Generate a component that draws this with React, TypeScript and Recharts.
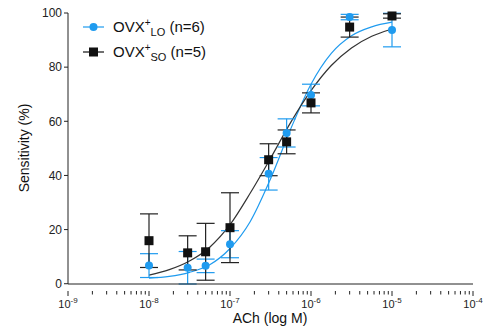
import React from "react"
import { ComposedChart, Line, Scatter, ErrorBar, XAxis, YAxis, ZAxis } from "recharts"

const BLUE = "#1f9bef"
const BLACK = "#111111"

// doses (M)
const doses = [1e-8, 3e-8, 5e-8, 1e-7, 3e-7, 5e-7, 1e-6, 3e-6, 1e-5]

// OVX+ LO mean ± SEM
const loMean = [6.7, 5.9, 6.6, 14.6, 40.6, 55.7, 69.7, 98.5, 93.7]
const loErr = [4.4, 6.0, 2.5, 5.0, 6.0, 5.2, 4.0, 1.0, 6.2]

// OVX+ SO mean ± SEM
const soMean = [15.9, 11.4, 11.8, 20.7, 45.8, 52.4, 66.8, 94.8, 98.9]
const soErr = [9.9, 6.3, 10.5, 12.9, 5.9, 4.4, 3.7, 3.7, 0.8]

const curveX = [1e-8, 1.78e-8, 3.16e-8, 5.62e-8, 1e-7, 1.78e-7, 3.16e-7, 5.62e-7, 1e-6, 1.78e-6, 3.16e-6, 5.62e-6, 1e-5]
const loCurve = [2.1, 2.7, 4.2, 7.0, 13.0, 23.0, 38.7, 57.2, 73.7, 85.1, 91.6, 94.9, 96.6]
const soCurve = [3.2, 5.2, 8.4, 13.5, 21.8, 33.5, 46.3, 59.6, 71.3, 80.6, 87.1, 91.4, 94.1]

const yTicks = [0, 20, 40, 60, 80, 100]
const xMajor = [-9, -8, -7, -6, -5, -4]

const xTicks: number[] = []
xMajor.forEach((e, i) => {
  for (let k = 1; k <= 9; k++) {
    if (i === xMajor.length - 1 && k > 1) break
    xTicks.push(k * Math.pow(10, e))
  }
})

const loPts = doses.map((x, i) => ({ x, y: loMean[i], err: loErr[i] }))
const soPts = doses.map((x, i) => ({ x, y: soMean[i], err: soErr[i] }))
const loLine = curveX.map((x, i) => ({ x, y: loCurve[i] }))
const soLine = curveX.map((x, i) => ({ x, y: soCurve[i] }))

const FONT = "Liberation Sans, Arial, Helvetica, sans-serif"

function XTick(props: any) {
  const { x, y, payload } = props
  const v = payload.value as number
  const e = Math.round(Math.log10(v))
  const major = Math.abs(Math.log10(v) - e) < 1e-6
  return (
    <g>
      <line x1={x} x2={x} y1={y - 1} y2={y + (major ? 4 : 2.5)} stroke="#222" strokeWidth={1} />
      {major && (
        <text x={x} y={y + 16} textAnchor="middle" fontSize={11} fill="#222" fontFamily={FONT}>
          10<tspan dy={-5} fontSize={8}>{String(e)}</tspan>
        </text>
      )}
    </g>
  )
}

const Dot = (props: any) => <circle cx={props.cx} cy={props.cy} r={4} fill={BLUE} />
const Sq = (props: any) => <rect x={props.cx - 4.5} y={props.cy - 4.5} width={9} height={9} fill={BLACK} />

export default function App() {
  return (
    <div style={{ position: "absolute", left: 0, top: 0, width: 489, height: 334, background: "#fff", fontFamily: FONT }}>
      <ComposedChart width={489} height={334} margin={{ top: 13, right: 16, bottom: 20, left: 0 }}>
        <XAxis
          dataKey="x"
          type="number"
          scale="log"
          domain={[1e-9, 1e-4]}
          ticks={xTicks}
          interval={0}
          tick={<XTick />}
          tickLine={false}
          axisLine={{ stroke: "#222" }}
          height={30}
          allowDataOverflow
        />
        <YAxis
          dataKey="y"
          type="number"
          domain={[0, 100]}
          ticks={yTicks}
          width={68}
          tickSize={4}
          tickMargin={2}
          tickLine={{ stroke: "#222" }}
          axisLine={{ stroke: "#222" }}
          tick={{ fontSize: 12, fill: "#222", fontFamily: FONT }}
        />
        <ZAxis range={[60, 60]} />
        <Line data={loLine} dataKey="y" type="monotone" stroke={BLUE} strokeWidth={1.2} dot={false} isAnimationActive={false} />
        <Line data={soLine} dataKey="y" type="monotone" stroke="#333" strokeWidth={1.2} dot={false} isAnimationActive={false} />
        <Scatter data={loPts} dataKey="y" shape={<Dot />} isAnimationActive={false}>
          <ErrorBar dataKey="err" direction="y" width={9} stroke={BLUE} strokeWidth={1.2} />
        </Scatter>
        <Scatter data={soPts} dataKey="y" shape={<Sq />} isAnimationActive={false}>
          <ErrorBar dataKey="err" direction="y" width={9} stroke="#222" strokeWidth={1.2} />
        </Scatter>
      </ComposedChart>

      <div style={{ position: "absolute", left: 270, top: 310, transform: "translateX(-50%)", fontSize: 14, color: "#111", whiteSpace: "nowrap" }}>
        ACh (log M)
      </div>
      <div style={{ position: "absolute", left: 24, top: 148, transform: "translate(-50%,-50%) rotate(-90deg)", fontSize: 14, color: "#111", whiteSpace: "nowrap" }}>
        Sensitivity (%)
      </div>

      <svg style={{ position: "absolute", left: 0, top: 0 }} width={489} height={80}>
        <line x1={83} x2={104} y1={27} y2={27} stroke={BLUE} strokeWidth={1.2} />
        <circle cx={93.5} cy={27} r={4} fill={BLUE} />
        <line x1={83} x2={104} y1={52} y2={52} stroke={BLACK} strokeWidth={1.2} />
        <rect x={89} y={47.5} width={9} height={9} fill={BLACK} />
        <text x={113} y={32} fontSize={15} fill="#111" fontFamily={FONT}>
          OVX<tspan dy={-6} fontSize={10}>+</tspan><tspan dy={10} fontSize={11}>LO</tspan><tspan dy={-4}> (n=6)</tspan>
        </text>
        <text x={113} y={57} fontSize={15} fill="#111" fontFamily={FONT}>
          OVX<tspan dy={-6} fontSize={10}>+</tspan><tspan dy={10} fontSize={11}>SO</tspan><tspan dy={-4}> (n=5)</tspan>
        </text>
      </svg>
    </div>
  )
}
